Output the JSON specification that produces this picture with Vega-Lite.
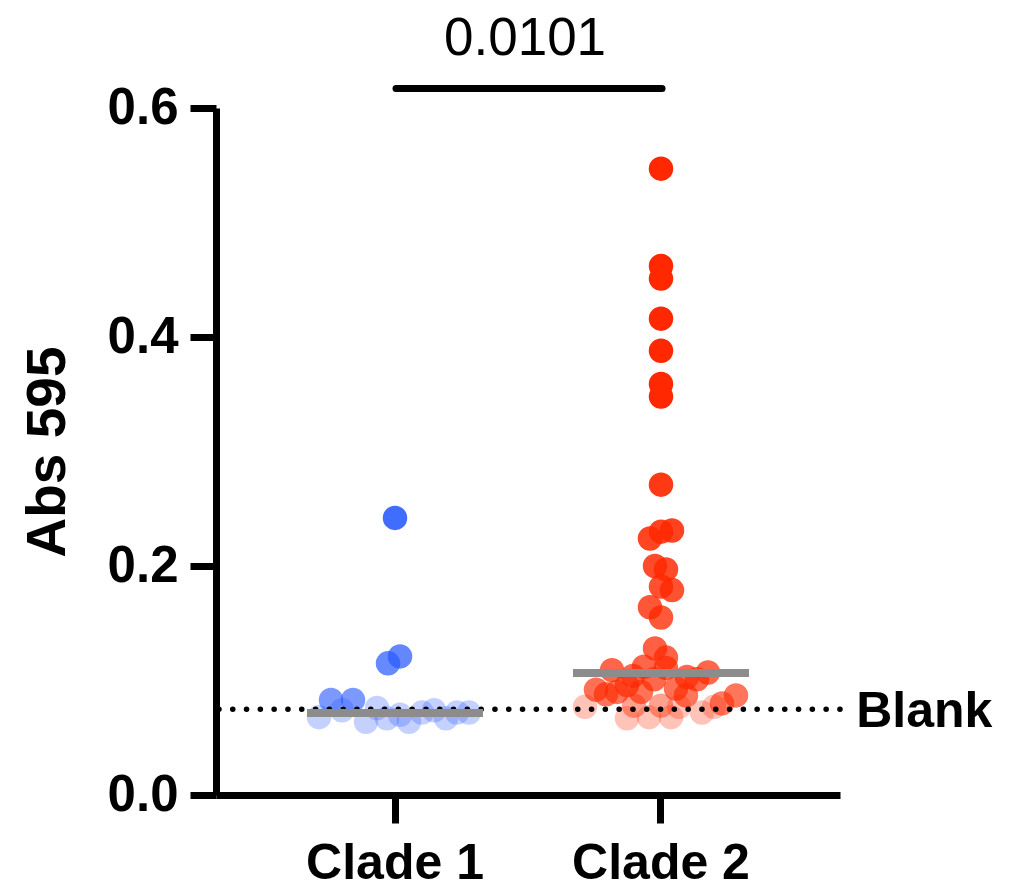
{
  "$schema": "https://vega.github.io/schema/vega-lite/v6.json",
  "width": 624,
  "height": 687,
  "autosize": "none",
  "padding": {"left": 216, "top": 108, "right": 185, "bottom": 94},
  "background": "white",
  "config": {
    "view": {"stroke": null},
    "font": "Liberation Sans",
    "axis": {"domainColor": "black", "tickColor": "black", "labelColor": "black", "titleColor": "black", "grid": false, "labelFont": "Liberation Sans", "titleFont": "Liberation Sans"}
  },
  "datasets": {
    "points": [
      {"group": "Clade 1", "spread": 0, "abs": 0.242},
      {"group": "Clade 1", "spread": 5, "abs": 0.121},
      {"group": "Clade 1", "spread": -7, "abs": 0.115},
      {"group": "Clade 1", "spread": -64, "abs": 0.083},
      {"group": "Clade 1", "spread": -42, "abs": 0.083},
      {"group": "Clade 1", "spread": -76, "abs": 0.068},
      {"group": "Clade 1", "spread": -53, "abs": 0.074},
      {"group": "Clade 1", "spread": -29, "abs": 0.064},
      {"group": "Clade 1", "spread": -18, "abs": 0.076},
      {"group": "Clade 1", "spread": -8, "abs": 0.067},
      {"group": "Clade 1", "spread": 5, "abs": 0.070},
      {"group": "Clade 1", "spread": 14, "abs": 0.064},
      {"group": "Clade 1", "spread": 27, "abs": 0.072},
      {"group": "Clade 1", "spread": 39, "abs": 0.074},
      {"group": "Clade 1", "spread": 51, "abs": 0.067},
      {"group": "Clade 1", "spread": 62, "abs": 0.072},
      {"group": "Clade 1", "spread": 74, "abs": 0.072},
      {"group": "Clade 2", "spread": 0, "abs": 0.547},
      {"group": "Clade 2", "spread": 0, "abs": 0.462},
      {"group": "Clade 2", "spread": 0, "abs": 0.451},
      {"group": "Clade 2", "spread": 0, "abs": 0.416},
      {"group": "Clade 2", "spread": 0, "abs": 0.388},
      {"group": "Clade 2", "spread": 0, "abs": 0.359},
      {"group": "Clade 2", "spread": 0, "abs": 0.348},
      {"group": "Clade 2", "spread": 0, "abs": 0.271},
      {"group": "Clade 2", "spread": 11, "abs": 0.231},
      {"group": "Clade 2", "spread": 0, "abs": 0.230},
      {"group": "Clade 2", "spread": -11, "abs": 0.224},
      {"group": "Clade 2", "spread": -6, "abs": 0.200},
      {"group": "Clade 2", "spread": 5, "abs": 0.197},
      {"group": "Clade 2", "spread": 0, "abs": 0.182},
      {"group": "Clade 2", "spread": 11, "abs": 0.179},
      {"group": "Clade 2", "spread": -11, "abs": 0.164},
      {"group": "Clade 2", "spread": 0, "abs": 0.155},
      {"group": "Clade 2", "spread": -6, "abs": 0.128},
      {"group": "Clade 2", "spread": 5, "abs": 0.120},
      {"group": "Clade 2", "spread": -17, "abs": 0.112},
      {"group": "Clade 2", "spread": 5, "abs": 0.111},
      {"group": "Clade 2", "spread": -49, "abs": 0.109},
      {"group": "Clade 2", "spread": 47, "abs": 0.107},
      {"group": "Clade 2", "spread": 26, "abs": 0.103},
      {"group": "Clade 2", "spread": 36, "abs": 0.101},
      {"group": "Clade 2", "spread": -7, "abs": 0.101},
      {"group": "Clade 2", "spread": -28, "abs": 0.104},
      {"group": "Clade 2", "spread": -34, "abs": 0.096},
      {"group": "Clade 2", "spread": -65, "abs": 0.092},
      {"group": "Clade 2", "spread": -55, "abs": 0.088},
      {"group": "Clade 2", "spread": -44, "abs": 0.090},
      {"group": "Clade 2", "spread": -20, "abs": 0.090},
      {"group": "Clade 2", "spread": 15, "abs": 0.093},
      {"group": "Clade 2", "spread": 25, "abs": 0.087},
      {"group": "Clade 2", "spread": 61, "abs": 0.080},
      {"group": "Clade 2", "spread": 75, "abs": 0.087},
      {"group": "Clade 2", "spread": -76, "abs": 0.077},
      {"group": "Clade 2", "spread": -34, "abs": 0.067},
      {"group": "Clade 2", "spread": -12, "abs": 0.068},
      {"group": "Clade 2", "spread": 10, "abs": 0.068},
      {"group": "Clade 2", "spread": 18, "abs": 0.077},
      {"group": "Clade 2", "spread": 41, "abs": 0.072},
      {"group": "Clade 2", "spread": 53, "abs": 0.077},
      {"group": "Clade 2", "spread": 0, "abs": 0.078},
      {"group": "Clade 2", "spread": -27, "abs": 0.078}
    ],
    "medians": [
      {"group": "Clade 1", "median": 0.0716},
      {"group": "Clade 2", "median": 0.1066}
    ],
    "annot": [{"blank": 0.075, "bar": 0.617, "pvalue": "0.0101"}]
  },
  "resolve": {"scale": {"x": "independent"}, "axis": {"x": "independent"}},
  "layer": [
    {
      "data": {"name": "points"},
      "mark": {"type": "circle", "size": 600},
      "encoding": {
        "x": {
          "field": "group", "type": "nominal",
          "scale": {"domain": ["Clade 1", "Clade 2"], "paddingInner": 0, "paddingOuter": 0.173},
          "axis": {
            "title": null, "labelAngle": 0,
            "labelFontSize": 50, "labelFontWeight": "bold", "labelPadding": 15,
            "tickSize": 28, "tickWidth": 7, "domainWidth": 7
          }
        },
        "xOffset": {"field": "spread", "type": "quantitative", "scale": {"domain": [-133, 133]}},
        "y": {
          "field": "abs", "type": "quantitative",
          "scale": {"domain": [0, 0.6], "nice": false},
          "axis": {
            "values": [0, 0.2, 0.4, 0.6], "format": ".1f", "title": "Abs 595",
            "labelFontSize": 51, "labelFontWeight": "bold", "labelPadding": 12,
            "tickSize": 26, "tickWidth": 7, "domainWidth": 7,
            "titleFontSize": 55, "titleFontWeight": "bold", "titlePadding": 31
          }
        },
        "color": {"field": "group", "type": "nominal", "scale": {"domain": ["Clade 1", "Clade 2"], "range": ["#2a5bff", "#ff2800"]}, "legend": null},
        "opacity": {"field": "abs", "type": "quantitative", "scale": {"type": "linear", "domain": [0.077, 0.079, 0.1, 0.25, 0.34], "range": [0.28, 0.6, 0.7, 0.9, 1], "clamp": true}, "legend": null}
      }
    },
    {
      "data": {"name": "annot"},
      "mark": {"type": "rule", "strokeDash": [0.1, 13.7], "strokeCap": "round", "strokeWidth": 5.5, "color": "black"},
      "encoding": {"y": {"field": "blank", "type": "quantitative"}}
    },
    {
      "data": {"name": "medians"},
      "mark": {"type": "tick", "orient": "horizontal", "size": 176, "thickness": 8, "color": "#8c8c8c", "opacity": 1},
      "encoding": {
        "x": {"field": "group", "type": "nominal", "scale": {"domain": ["Clade 1", "Clade 2"], "paddingInner": 0, "paddingOuter": 0.173}, "axis": null},
        "y": {"field": "median", "type": "quantitative"}
      }
    },
    {
      "data": {"name": "annot"},
      "layer": [
        {
          "mark": {"type": "text", "text": "Blank", "align": "left", "baseline": "middle", "fontSize": 50, "fontWeight": "bold", "font": "Liberation Sans", "dy": 3, "color": "black"},
          "encoding": {
            "x": {"datum": 2.73, "type": "quantitative", "scale": {"domain": [0.3233, 2.669], "nice": false, "zero": false}, "axis": null},
            "y": {"field": "blank", "type": "quantitative"}
          }
        },
        {
          "mark": {"type": "rule", "strokeWidth": 7, "strokeCap": "round", "color": "black"},
          "encoding": {"x": {"datum": 1, "type": "quantitative"}, "x2": {"datum": 2}, "y": {"field": "bar", "type": "quantitative"}}
        },
        {
          "mark": {"type": "text", "align": "center", "baseline": "alphabetic", "fontSize": 53, "fontWeight": "normal", "font": "Liberation Sans", "dy": -34, "dx": -4, "color": "black"},
          "encoding": {"x": {"datum": 1.5, "type": "quantitative"}, "y": {"field": "bar", "type": "quantitative"}, "text": {"field": "pvalue"}}
        }
      ]
    }
  ]
}
